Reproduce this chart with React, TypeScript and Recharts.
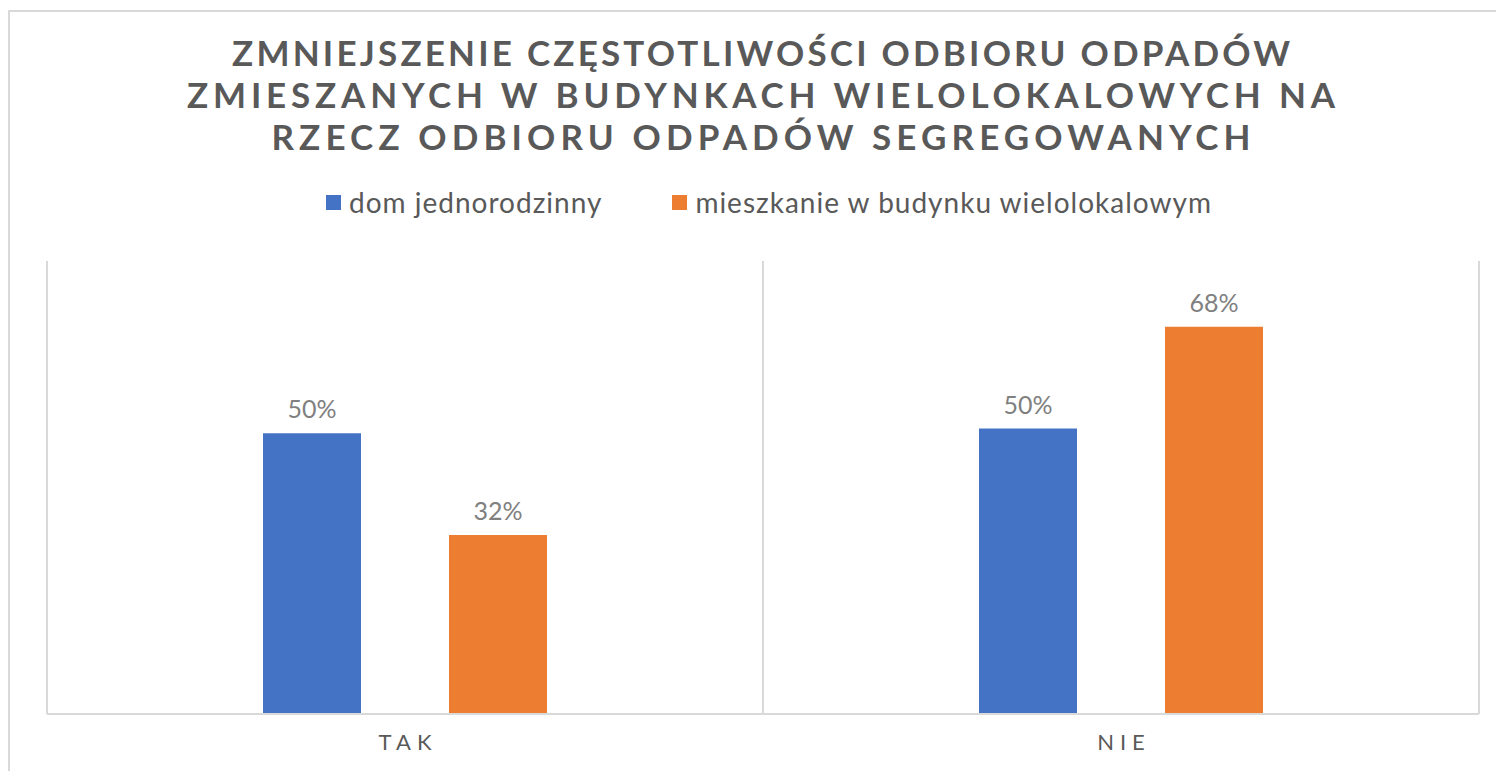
import React from 'react';
import { BarChart, Bar, XAxis, YAxis, CartesianGrid, Legend, LabelList, Customized } from 'recharts';

const categories = ['TAK', 'NIE'];
const domJednorodzinny = [0.496, 0.504];
const mieszkanieWielolokalowe = [0.316, 0.684];
const seriesNames = ['dom jednorodzinny', 'mieszkanie w budynku wielolokalowym'];
const seriesColors = ['#4472C4', '#ED7D31'];
const titleLines = [
  'ZMNIEJSZENIE CZĘSTOTLIWOŚCI ODBIORU ODPADÓW',
  'ZMIESZANYCH W BUDYNKACH WIELOLOKALOWYCH NA',
  'RZECZ ODBIORU ODPADÓW SEGREGOWANYCH',
];
const titleWidths = [1058, 1148, 979];

const data = categories.map((c, i) => ({
  name: c,
  dom: domJednorodzinny[i],
  mieszkanie: mieszkanieWielolokalowe[i],
}));

const FONT = 'Lato, "Open Sans", sans-serif';
const CHART_W = 1494;
const CHART_H = 759;

const Title = () => (
  <g>
    {titleLines.map((t, i) => (
      <text
        key={i}
        x={751}
        y={54 + i * 42}
        textAnchor="middle"
        textLength={titleWidths[i]}
        lengthAdjust="spacing"
        fontFamily={FONT}
        fontWeight={700}
        fontSize={35}
        fill="#595959"
      >
        {t}
      </text>
    ))}
  </g>
);

const LegendContent = (props: any) => {
  const payload = props.payload || [];
  return (
    <div
      style={{
        display: 'flex',
        justifyContent: 'center',
        alignItems: 'center',
        paddingLeft: 24,
        height: 30,
        fontFamily: FONT,
        fontSize: 28,
        letterSpacing: 1,
        color: '#595959',
      }}
    >
      {payload.map((p: any, i: number) => (
        <div key={i} style={{ display: 'flex', alignItems: 'center', marginLeft: i === 0 ? 0 : 70 }}>
          <div style={{ width: 15, height: 15, background: p.color, marginRight: 8 }} />
          <span>{p.value}</span>
        </div>
      ))}
    </div>
  );
};

const CategoryTick = (props: any) => {
  const { x, y, payload } = props;
  return (
    <text
      x={x + 3}
      y={y}
      dy={36}
      textAnchor="middle"
      fontFamily={FONT}
      fontSize={22}
      letterSpacing={6}
      fill="#595959"
    >
      {payload.value}
    </text>
  );
};

const pct = (v: any) => `${Math.round(Number(v) * 100)}%`;

export default function App() {
  return (
    <div
      style={{
        position: 'relative',
        width: 1496,
        height: 761,
        marginTop: 2,
        borderTop: '2px solid #d9d9d9',
        borderLeft: '2px solid #d9d9d9',
        boxSizing: 'border-box',
        background: '#fff',
      }}
    >
      <BarChart
        width={CHART_W}
        height={CHART_H}
        data={data}
        margin={{ top: 219, right: 25, bottom: 27, left: 37 }}
        barSize={98}
        barGap={88}
      >
        <CartesianGrid
          horizontal={false}
          vertical
          stroke="#d9d9d9"
          strokeWidth={2}
          verticalCoordinatesGenerator={(args: any) => {
            const o = args.offset;
            return [o.left, o.left + o.width / 2, o.left + o.width];
          }}
        />
        <XAxis
          dataKey="name"
          axisLine={{ stroke: '#d9d9d9', strokeWidth: 2 }}
          tickLine={false}
          tickSize={0}
          tickMargin={0}
          height={30}
          tick={<CategoryTick />}
          interval={0}
        />
        <YAxis hide domain={[0, 0.8]} type="number" />
        <Legend verticalAlign="top" content={<LegendContent />} wrapperStyle={{ top: 175, left: 0, width: CHART_W }} />
        <Customized component={<Title />} />
        <Bar dataKey="dom" name={seriesNames[0]} fill={seriesColors[0]} isAnimationActive={false}>
          <LabelList dataKey="dom" position="top" offset={15} formatter={pct} fill="#808080" fontSize={25} fontFamily={FONT} />
        </Bar>
        <Bar dataKey="mieszkanie" name={seriesNames[1]} fill={seriesColors[1]} isAnimationActive={false}>
          <LabelList dataKey="mieszkanie" position="top" offset={15} formatter={pct} fill="#808080" fontSize={25} fontFamily={FONT} />
        </Bar>
      </BarChart>
    </div>
  );
}
